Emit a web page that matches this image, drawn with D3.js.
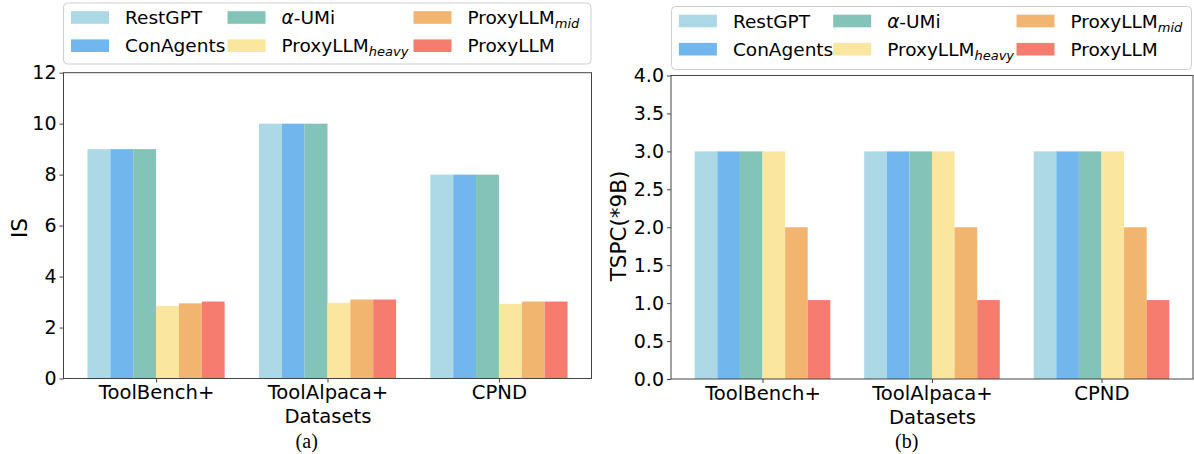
<!DOCTYPE html>
<html>
<head>
<meta charset="utf-8">
<script src="https://cdn.jsdelivr.net/npm/d3@7"></script>
<style>
  html, body { margin: 0; padding: 0; background: #fff; }
  svg { display: block; }
  text { font-family: "DejaVu Sans", sans-serif; fill: #000; }
</style>
</head>
<body>
<svg id="chart" width="1194" height="454"></svg>
<script>
// ---------- data ----------
const categories = ["ToolBench+", "ToolAlpaca+\nDatasets", "CPND"];
const methods = ["RestGPT", "ConAgents", "α-UMi", "ProxyLLM_heavy", "ProxyLLM_mid", "ProxyLLM"];
const colors = ["#ADD8E6", "#71B7ED", "#84C3B7", "#FAE69E", "#F2B56F", "#F57C6E"];

// IS values (panel a), one array per method, in category order
const isRestGPT   = [9, 10, 8];
const isConAgents = [9, 10, 8];
const isAlphaUMi  = [9, 10, 8];
const isHeavy     = [2.85, 2.97, 2.93];
const isMid       = [2.95, 3.10, 3.02];
const isProxy     = [3.02, 3.10, 3.02];

// TSPC values (panel b)
const tsRestGPT   = [3, 3, 3];
const tsConAgents = [3, 3, 3];
const tsAlphaUMi  = [3, 3, 3];
const tsHeavy     = [3, 3, 3];
const tsMid       = [2, 2, 2];
const tsProxy     = [1.04, 1.04, 1.04];

const isTicks = [0, 2, 4, 6, 8, 10, 12];
const tsTicks = [0, 0.5, 1, 1.5, 2, 2.5, 3, 3.5, 4];

// ---------- layout ----------
const svg = d3.select("#chart");
const panels = [
  { values: [isRestGPT, isConAgents, isAlphaUMi, isHeavy, isMid, isProxy],
    ticks: isTicks, fmt: d3.format("d"), ymax: 12, ylabel: "IS", caption: "(a)",
    x0: 63.5, x1: 591.5, yTop: 72.7, yBot: 378.5, ylabelX: 27, ylabelY: 228, capX: 306.7,
    legend: { x: 63.5, y: 3, w: 527.5, h: 61 } },
  { values: [tsRestGPT, tsConAgents, tsAlphaUMi, tsHeavy, tsMid, tsProxy],
    ticks: tsTicks, fmt: d3.format(".1f"), ymax: 4, ylabel: "TSPC(*9B)", caption: "(b)",
    x0: 671, x1: 1193, yTop: 75.5, yBot: 379, ylabelX: 625.5, ylabelY: 226, capX: 906.7,
    legend: { x: 671.5, y: 6.5, w: 520, h: 63 } }
];

const nM = methods.length;
const bw = 0.8 / nM;

panels.forEach(p => {
  const x = d3.scaleLinear().domain([-0.54, categories.length - 1 + 0.54]).range([p.x0, p.x1]);
  const y = d3.scaleLinear().domain([0, p.ymax]).range([p.yBot, p.yTop]);
  const g = svg.append("g");

  // bars
  p.values.forEach((vals, mi) => {
    g.append("g").selectAll("rect").data(vals).join("rect")
      .attr("x", (d, ci) => x(ci + (mi - (nM - 1) / 2) * bw - bw / 2))
      .attr("width", (d, ci) => x(ci + bw) - x(ci))
      .attr("y", d => y(d))
      .attr("height", d => y(0) - y(d))
      .attr("fill", colors[mi]);
  });

  // frame
  g.append("rect")
    .attr("x", p.x0).attr("y", p.yTop)
    .attr("width", p.x1 - p.x0).attr("height", p.yBot - p.yTop)
    .attr("fill", "none").attr("stroke", "#444").attr("stroke-width", 1);

  // y axis
  const ya = g.append("g").attr("transform", `translate(${p.x0},0)`)
    .call(d3.axisLeft(y).tickValues(p.ticks).tickFormat(p.fmt).tickSize(4).tickPadding(3));
  ya.select(".domain").remove();
  ya.selectAll(".tick line").attr("stroke", "#444");
  ya.selectAll("text").attr("font-size", 19).attr("font-family", "DejaVu Sans").attr("fill", "#000");

  // x axis
  const xa = g.append("g").attr("transform", `translate(0,${p.yBot})`)
    .call(d3.axisBottom(x).tickValues(d3.range(categories.length)).tickFormat((d, i) => categories[i]).tickSize(4).tickPadding(2));
  xa.select(".domain").remove();
  xa.selectAll(".tick line").attr("stroke", "#444");
  xa.selectAll("text").each(function(d, i) {
    const t = d3.select(this);
    const lines = categories[i].split("\n");
    t.text(null).attr("font-size", 19.6).attr("font-family", "DejaVu Sans").attr("fill", "#000")
      .attr("y", 20.5).attr("dy", null);
    lines.forEach((ln, li) => {
      t.append("tspan").attr("x", 0).attr("dy", li === 0 ? 0 : 24.3).text(ln);
    });
  });

  // y label
  g.append("text")
    .attr("transform", `translate(${p.ylabelX},${p.ylabelY}) rotate(-90)`)
    .attr("text-anchor", "middle").attr("font-size", 21.5).text(p.ylabel);

  // caption
  g.append("text")
    .attr("x", p.capX).attr("y", 448)
    .attr("text-anchor", "middle").attr("font-size", 20)
    .style("font-family", "'Liberation Serif', 'Times New Roman', serif")
    .text(p.caption);

  // legend
  const L = p.legend;
  const lg = g.append("g");
  lg.append("rect").attr("x", L.x).attr("y", L.y).attr("width", L.w).attr("height", L.h)
    .attr("rx", 4).attr("fill", "#fff").attr("fill-opacity", 0.8)
    .attr("stroke", "#cfcfcf").attr("stroke-width", 1);
  const colOff = [7.5, 164, 350];
  const rowOff = [14.5, 42.7];
  methods.forEach((m, i) => {
    const col = Math.floor(i / 2), row = i % 2;
    const hx = L.x + colOff[col] * (L.w / 527.5), cy = L.y + rowOff[row];
    lg.append("rect").attr("x", hx).attr("y", cy - 6.3).attr("width", 38).attr("height", 12.6).attr("fill", colors[i]);
    const t = lg.append("text").attr("x", hx + 54).attr("y", cy + 6.6).attr("font-size", 18.5);
    if (m.startsWith("α")) {
      t.append("tspan").attr("font-style", "italic").text("α");
      t.append("tspan").text(m.slice(1));
    } else if (m.includes("_")) {
      const [base, sub] = m.split("_");
      t.append("tspan").text(base);
      t.append("tspan").attr("font-style", "italic").attr("font-size", 13).attr("dy", 4).text(sub);
    } else {
      t.text(m);
    }
  });
});
</script>
</body>
</html>
